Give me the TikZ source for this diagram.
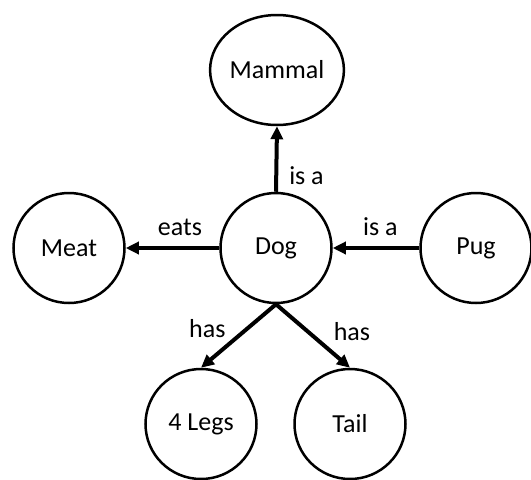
\documentclass[tikz,border=0pt]{standalone}
\usepackage{fontspec}
\setmainfont{Carlito}
\usetikzlibrary{arrows.meta,shapes.geometric}
\tikzset{
	concept/.style={draw, ellipse, line width=2.5pt, minimum width=111pt,
		minimum height=110pt, inner sep=0pt, font=\fontsize{26}{30}\selectfont},
	relation/.style={line width=4pt, -{Triangle[length=13pt,width=12pt]}},
	tag/.style={font=\fontsize{26}{30}\selectfont, inner sep=0pt}
}

\begin{document}
\begin{tikzpicture}[x=1pt, y=-1pt]
	\useasboundingbox (0,0) rectangle (531,480);
	% concepts
	\node[concept] (mammal) at (277,70) {Mammal};
	\node[concept] (dog) at (276,248) {Dog};
	\node[concept] (meat) at (69,248) {Meat};
	\node[concept] (pug) at (476,248) {Pug};
	\node[concept] (legs) at (201,424) {4 Legs};
	\node[concept] (tail) at (350,424) {Tail};
	% relations
	\draw[relation] (dog.north) -- (mammal.south)
		node[tag, pos=0.25, anchor=west, xshift=11pt] {is a};
	\draw[relation] (dog.west) -- (meat.east)
		node[tag, pos=0.42, anchor=south, yshift=10pt] {eats};
	\draw[relation] (pug.west) -- (dog.east)
		node[tag, pos=0.45, anchor=south, yshift=10pt] {is a};
	\draw[relation] (dog.south) -- (legs.north)
		node[tag, pos=0.38, anchor=east, xshift=-20pt] {has};
	\draw[relation] (dog.south) -- (tail.north)
		node[tag, pos=0.43, anchor=west, xshift=24pt] {has};
\end{tikzpicture}
\end{document}
